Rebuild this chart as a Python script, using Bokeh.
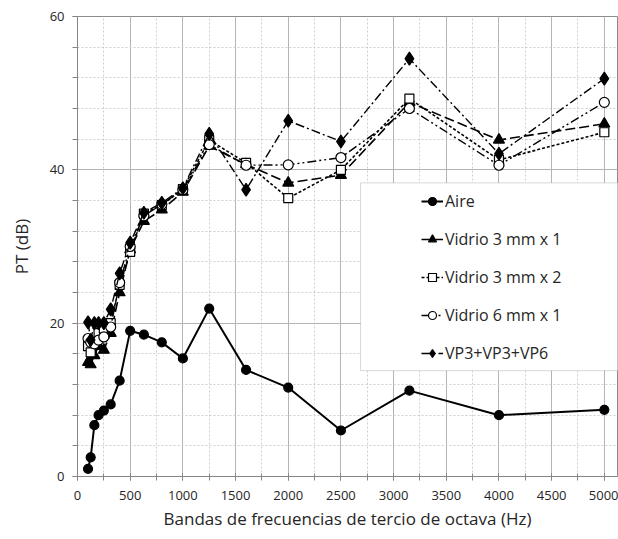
from bokeh.plotting import figure
from bokeh.models import Range1d, SingleIntervalTicker, Legend, LegendItem, BoxAnnotation
from bokeh.embed import file_html
from bokeh.resources import INLINE

# Third-octave band centre frequencies (Hz)
freq = [100, 125, 160, 200, 250, 315, 400, 500, 630, 800, 1000, 1250,
        1600, 2000, 2500, 3150, 4000, 5000]

# Transmission loss PT (dB) per configuration
aire = [1.0, 2.5, 6.7, 8.0, 8.6, 9.4, 12.5, 19.0, 18.5, 17.5, 15.4, 21.9,
        13.9, 11.6, 6.0, 11.2, 8.0, 8.7]
vidrio_3x1 = [14.9, 14.6, 15.8, 17.0, 16.5, 18.7, 24.0, 29.6, 33.3, 34.8, 37.1, 43.1,
              40.7, 38.3, 39.3, 48.8, 43.9, 46.0]
vidrio_3x2 = [17.0, 16.2, 17.5, 18.7, 19.3, 20.0, 25.0, 29.3, 34.3, 35.4, 37.5, 43.9,
              40.9, 36.3, 40.0, 49.3, 41.3, 44.9]
vidrio_6x1 = [18.0, 17.5, 17.3, 17.8, 18.2, 19.5, 25.3, 30.0, 34.0, 35.5, 37.4, 43.3,
              40.6, 40.65, 41.6, 48.0, 40.6, 48.8]
vp3_vp3_vp6 = [20.1, 17.8, 20.0, 20.0, 20.0, 21.8, 26.5, 30.5, 34.4, 35.7, 37.6, 44.7,
               37.4, 46.4, 43.7, 54.5, 42.1, 51.9]

FONT = "Open Sans"
TXT = "#262626"

p = figure(width=618, height=539, output_backend="svg", toolbar_location=None,
           x_range=Range1d(0, 5125), y_range=Range1d(0, 60),
           min_border_left=77, min_border_right=1, min_border_top=16, min_border_bottom=63)
p.background_fill_color = "white"
p.border_fill_color = "white"
p.outline_line_color = "#8c8c8c"
p.outline_line_width = 1

# axes and ticks
p.xaxis.ticker = SingleIntervalTicker(interval=500, num_minor_ticks=2)
p.yaxis.ticker = SingleIntervalTicker(interval=20, num_minor_ticks=5)
for ax in (p.xaxis[0], p.yaxis[0]):
    ax.axis_line_color = "#868686"
    ax.major_tick_line_color = "#868686"
    ax.minor_tick_line_color = "#868686"
    ax.major_label_text_font = FONT
    ax.major_label_text_font_size = "13px"
    ax.major_label_text_color = TXT
    ax.axis_label_text_font = FONT
    ax.axis_label_text_font_size = "17px"
    ax.axis_label_text_font_style = "normal"
    ax.axis_label_text_color = TXT
p.xaxis.major_tick_in = 3
p.xaxis.major_tick_out = 4
p.xaxis.minor_tick_in = 3
p.xaxis.minor_tick_out = 4
p.yaxis.major_tick_in = 0
p.yaxis.major_tick_out = 5
p.yaxis.minor_tick_in = 0
p.yaxis.minor_tick_out = 5
p.xaxis.major_label_standoff = 10
p.yaxis.major_label_standoff = 8
p.xaxis.axis_label = "Bandas de frecuencias de tercio de octava (Hz)"
p.yaxis.axis_label = "PT (dB)"
p.xaxis.axis_label_standoff = 4
p.yaxis.axis_label_standoff = 14

# grid: solid major lines, dotted minor lines
p.grid.grid_line_color = "#b4b4b4"
p.grid.grid_line_width = 1
p.grid.minor_grid_line_color = "#cfcfcf"
p.grid.minor_grid_line_dash = "2 2"

series = [
    ("Aire", aire, "solid", 2.0, "circle", 9, "black"),
    ("Vidrio 3 mm x 1", vidrio_3x1, "10 4", 1.6, "triangle", 11, "black"),
    ("Vidrio 3 mm x 2", vidrio_3x2, "3 2", 1.6, "square", 9, "white"),
    ("Vidrio 6 mm x 1", vidrio_6x1, "9 3 2 3 2 3", 1.4, "circle", 10, "white"),
    ("VP3+VP3+VP6", vp3_vp3_vp6, "9 3 2 3", 1.4, "diamond", 13, "black"),
]

items = []
for name, ys, dash, lw, marker, size, fill in series:
    ln = p.line(freq, ys, line_color="black", line_width=lw, line_dash=dash)
    sc = p.scatter(freq, ys, marker=marker, size=size, fill_color=fill,
                   line_color="black", line_width=1.2)
    items.append(LegendItem(label=name, renderers=[ln, sc]))

# legend frame
box = BoxAnnotation(left=2687, right=5200, bottom=13.8, top=38.3,
                    fill_color="white", fill_alpha=1.0,
                    line_color="#7f7f7f", line_width=1, level="overlay")
p.add_layout(box)

legend = Legend(items=items, location=(344, 112), padding=0, margin=0,
                spacing=16, glyph_width=22, glyph_height=20, label_height=20,
                label_standoff=2, label_text_font=FONT, label_text_font_size="16px",
                label_text_color=TXT, background_fill_alpha=0,
                border_line_alpha=0)
p.add_layout(legend)

open("out.html", "w").write(file_html(p, INLINE))
